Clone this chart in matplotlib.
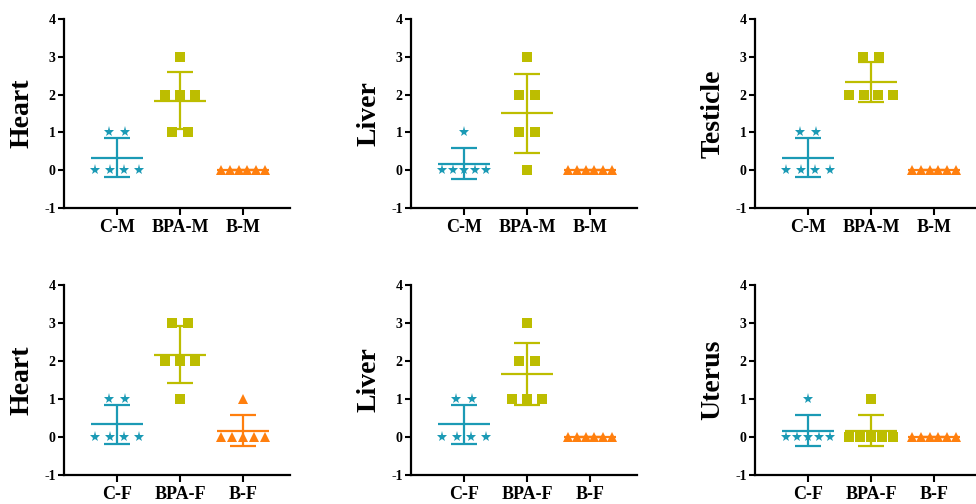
import numpy as np
import matplotlib.pyplot as plt

plt.rcParams['font.family'] = ['Liberation Serif', 'DejaVu Serif']
plt.rcParams['font.weight'] = 'bold'
plt.rcParams['axes.unicode_minus'] = False

# scores per animal, one list per group
labels_m = ['C-M', 'BPA-M', 'B-M']
labels_f = ['C-F', 'BPA-F', 'B-F']

heart_m = [[1, 1, 0, 0, 0, 0], [3, 2, 2, 2, 1, 1], [0, 0, 0, 0, 0, 0]]
liver_m = [[1, 0, 0, 0, 0, 0], [3, 2, 2, 1, 1, 0], [0, 0, 0, 0, 0, 0]]
testicle_m = [[1, 1, 0, 0, 0, 0], [3, 3, 2, 2, 2, 2], [0, 0, 0, 0, 0, 0]]
heart_f = [[1, 1, 0, 0, 0, 0], [3, 3, 2, 2, 2, 1], [1, 0, 0, 0, 0, 0]]
liver_f = [[1, 1, 0, 0, 0, 0], [3, 2, 2, 1, 1, 1], [0, 0, 0, 0, 0, 0]]
uterus_f = [[1, 0, 0, 0, 0, 0], [1, 0, 0, 0, 0, 0], [0, 0, 0, 0, 0, 0]]

colors = ['#1b9ab5', '#bdbd00', '#ff7f0e']
markers = ['*', 's', '^']
msizes = [8, 6.8, 7]


def swarm_x(values, center):
    values = np.asarray(values)
    xs = np.zeros(len(values))
    for v in np.unique(values):
        idx = np.where(values == v)[0]
        n = len(idx)
        step = 0.245 if n < 4 else 0.71 / (n - 1)
        xs[idx] = center + (np.arange(n) - (n - 1) / 2) * step
    return xs


def panel(ax, groups, labels, ylabel):
    for i, vals in enumerate(groups):
        c = i + 1
        xs = swarm_x(vals, c)
        ax.plot(xs, vals, ls='none', marker=markers[i], ms=msizes[i],
                color=colors[i], mew=0, clip_on=False, zorder=3)
        m = np.mean(vals)
        sd = np.std(vals, ddof=1)
        ax.hlines(m, c - 0.41, c + 0.41, color=colors[i], lw=1.6, zorder=4)
        ax.hlines([m - sd, m + sd], c - 0.2, c + 0.2, color=colors[i], lw=1.6, zorder=4)
        ax.vlines(c, m - sd, m + sd, color=colors[i], lw=1.6, zorder=4)
    ax.set_xlim(1 - 53 / 63, 3 + 47 / 63)
    ax.set_ylim(-1, 4)
    ax.set_yticks([-1, 0, 1, 2, 3, 4])
    ax.set_xticks([1, 2, 3])
    ax.set_xticklabels(labels, fontsize=13, fontweight='bold')
    for t in ax.get_yticklabels():
        t.set_fontsize(10)
        t.set_fontweight('bold')
    ax.tick_params(axis='y', length=4, width=1.5, pad=2)
    ax.tick_params(axis='x', length=5, width=1.5, pad=3)
    for s in ['top', 'right']:
        ax.spines[s].set_visible(False)
    for s in ['left', 'bottom']:
        ax.spines[s].set_linewidth(1.6)
    ax.set_ylabel(ylabel, fontsize=20, fontweight='bold', va='center')
    ax.yaxis.set_label_coords(-42 / 226, 0.5)


fig = plt.figure(figsize=(9.76, 5.04), dpi=100)
lefts = [64 / 976, 411 / 976, 755 / 976]
w = 226 / 976
top_b, top_h = 1 - 208 / 504, 189 / 504
bot_b, bot_h = 1 - 475 / 504, 190 / 504

top_data = [heart_m, liver_m, testicle_m]
top_names = ['Heart', 'Liver', 'Testicle']
bot_data = [heart_f, liver_f, uterus_f]
bot_names = ['Heart', 'Liver', 'Uterus']

for i in range(3):
    ax = fig.add_axes([lefts[i], top_b, w, top_h])
    panel(ax, top_data[i], labels_m, top_names[i])
    ax = fig.add_axes([lefts[i], bot_b, w, bot_h])
    panel(ax, bot_data[i], labels_f, bot_names[i])

fig.savefig('out.png', dpi=100)
